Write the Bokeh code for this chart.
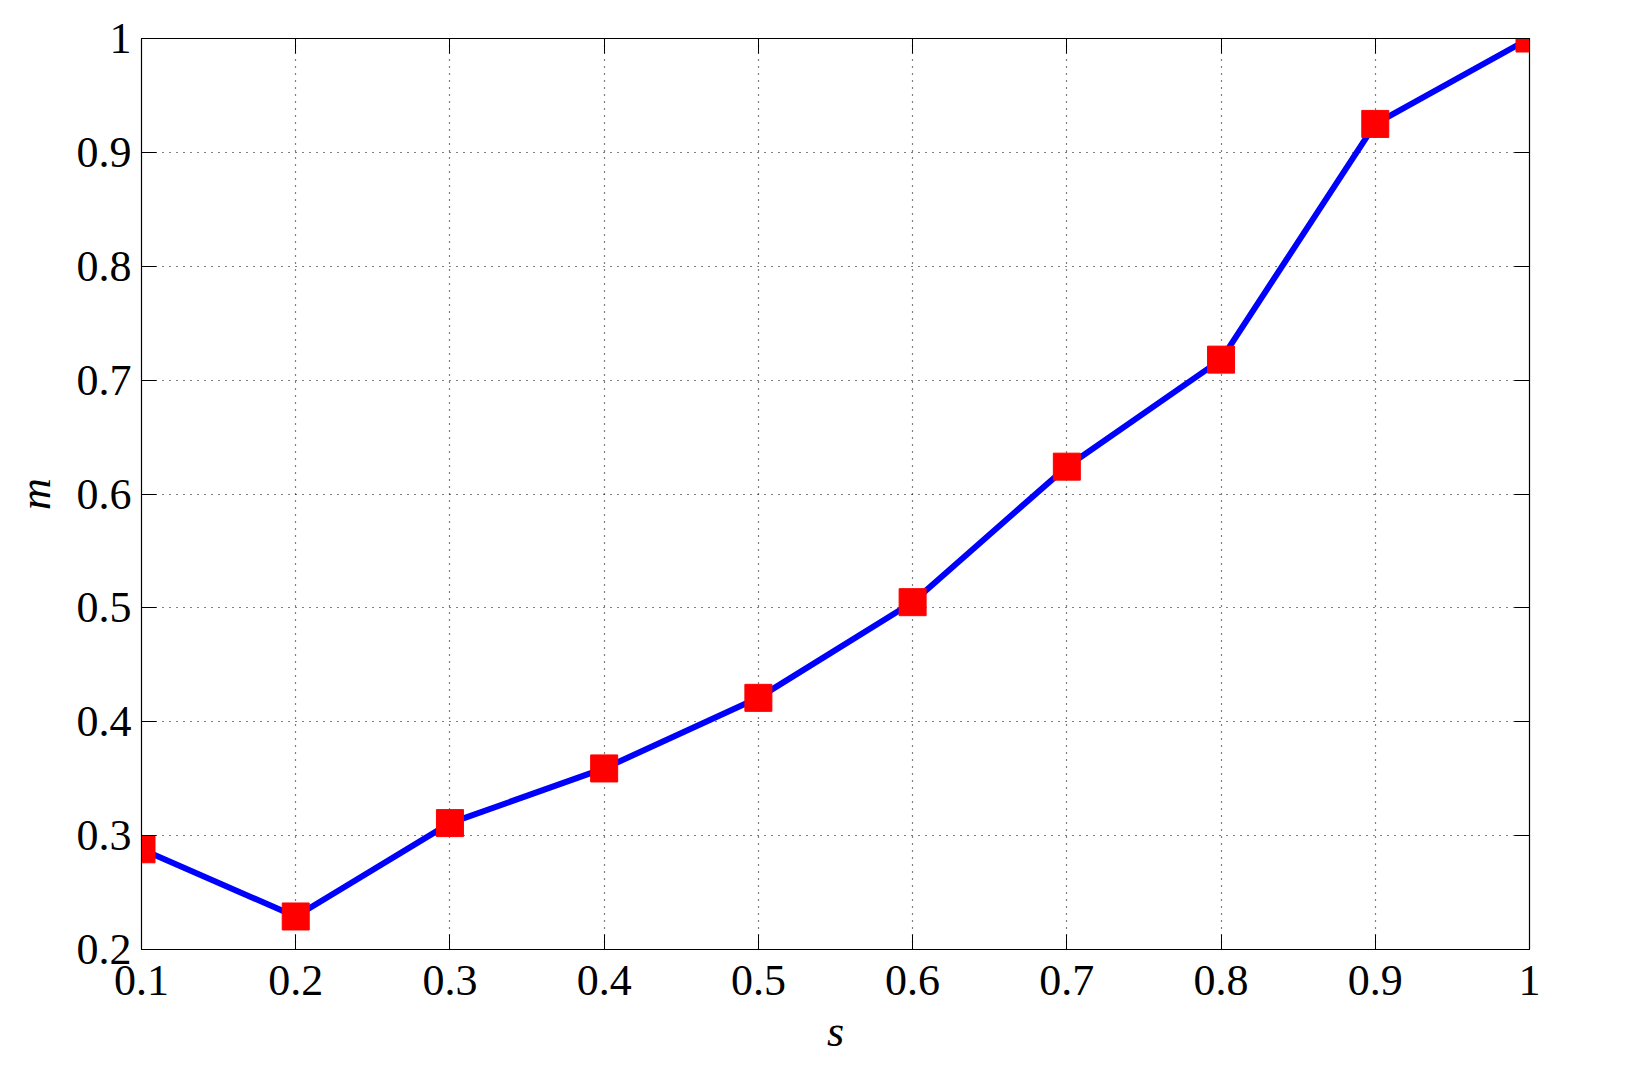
from bokeh.plotting import figure
from bokeh.models import FixedTicker, LinearAxis, Range1d
from bokeh.embed import file_html
from bokeh.resources import INLINE

s_vals = [0.1, 0.2, 0.3, 0.4, 0.5, 0.6, 0.7, 0.8, 0.9, 1.0]
m_vals = [0.288, 0.229, 0.311, 0.359, 0.421, 0.505, 0.624, 0.718, 0.925, 1.0]
x_ticks = [0.1, 0.2, 0.3, 0.4, 0.5, 0.6, 0.7, 0.8, 0.9, 1.0]
x_tick_labels = ["0.1", "0.2", "0.3", "0.4", "0.5", "0.6", "0.7", "0.8", "0.9", "1"]
y_ticks = [0.2, 0.3, 0.4, 0.5, 0.6, 0.7, 0.8, 0.9, 1.0]
y_tick_labels = ["0.2", "0.3", "0.4", "0.5", "0.6", "0.7", "0.8", "0.9", "1"]

FONT = "Liberation Serif"

p = figure(width=1585, height=1058, output_backend="svg", toolbar_location=None,
           x_range=Range1d(0.1, 1.0), y_range=Range1d(0.2, 1.0),
           min_border_left=141, min_border_top=38, min_border_right=56, min_border_bottom=107,
           x_axis_label="s", y_axis_label="m")
p.outline_line_color = "black"
p.outline_line_width = 1.2
p.background_fill_color = "white"
p.border_fill_color = "white"

for ax, ticks, labels in [(p.xaxis[0], x_ticks, x_tick_labels), (p.yaxis[0], y_ticks, y_tick_labels)]:
    ax.ticker = FixedTicker(ticks=ticks)
    ax.major_label_overrides = {t: l for t, l in zip(ticks, labels)}
    ax.major_tick_in = 15
    ax.major_tick_out = 0
    ax.minor_tick_in = 0
    ax.minor_tick_out = 0
    ax.axis_line_color = "black"
    ax.major_tick_line_color = "black"
    ax.major_label_text_font = FONT
    ax.major_label_text_font_size = "44px"
    ax.major_label_text_color = "black"
    ax.axis_label_text_font = FONT
    ax.axis_label_text_font_size = "44px"
    ax.axis_label_text_font_style = "italic"
    ax.axis_label_text_color = "black"

p.xaxis[0].major_label_standoff = 16
p.xaxis[0].axis_label_standoff = 9
p.yaxis[0].major_label_standoff = 10
p.yaxis[0].axis_label_standoff = 14

for side, ticks in [("above", x_ticks), ("right", y_ticks)]:
    ax = LinearAxis(ticker=FixedTicker(ticks=ticks),
                    major_label_overrides={t: "" for t in ticks},
                    major_tick_in=15, major_tick_out=0, minor_tick_in=0, minor_tick_out=0,
                    axis_line_color="black", major_tick_line_color="black",
                    major_label_standoff=0)
    p.add_layout(ax, side)

for g in (p.xgrid[0], p.ygrid[0]):
    g.grid_line_color = "black"
    g.grid_line_dash = "1 6"
    g.grid_line_width = 1.2

p.line(s_vals, m_vals, line_color="#0000ff", line_width=6)
p.scatter(s_vals, m_vals, marker="square", size=27, fill_color="#ff0000", line_color="#ff0000")

open("out.html", "w").write(file_html(p, INLINE))
